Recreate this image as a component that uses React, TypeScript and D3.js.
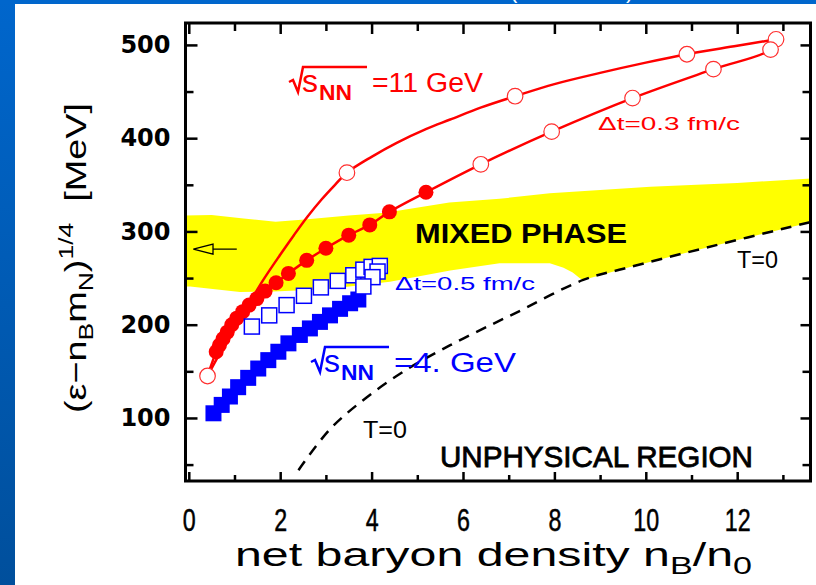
import React, { useEffect, useRef } from 'react';
import * as d3 from 'd3';

// axis ticks
const xTicksMajor = [0, 2, 4, 6, 8, 10, 12];
const xTicksMinor = [1, 3, 5, 7, 9, 11, 13];
const yTicksMajor = [100, 200, 300, 400, 500];
const yTicksMinor = [50, 150, 250, 350, 450];

// sqrt(s_NN)=11 GeV, compression branch (line)
const redUpX = [0.41, 0.8, 1.2, 1.63, 2.0, 2.3, 2.6, 2.9, 3.2, 3.46, 4.0, 4.55, 5.2, 5.72, 6.4, 7.14, 8.0, 9.0, 10.0, 10.9, 12.0, 12.85];
const redUpY = [145, 180, 213, 248, 275, 296, 316, 334, 350, 363, 380, 395, 410, 420, 433, 445, 458, 470, 481, 490, 499, 506];
// expansion branch (line)
const redDownX = [12.85, 12.73, 11.48, 9.71, 7.94, 6.39, 5.19, 4.39, 3.96, 3.5, 3.0, 2.58, 2.18, 1.91, 1.67, 1.49, 1.32, 1.18, 1.05, 0.94, 0.84, 0.75, 0.67, 0.6, 0.41];
const redDownY = [506, 495, 474, 443, 407, 372, 342, 321, 307, 296, 282, 269, 255, 245, 236, 228, 221, 214, 207, 200, 192, 185, 178, 171, 145];
// markers
const redOpenX = [0.41, 3.46, 7.14, 10.9, 12.85, 12.73, 11.48, 9.71, 7.94, 6.39];
const redOpenY = [145, 363, 445, 490, 506, 495, 474, 443, 407, 372];
const redFullX = [0.6, 0.67, 0.75, 0.84, 0.94, 1.05, 1.18, 1.32, 1.49, 1.67, 1.91, 2.18, 2.58, 3.0, 3.5, 3.96, 4.39, 5.19];
const redFullY = [171, 178, 185, 192, 200, 207, 214, 221, 228, 236, 245, 255, 269, 282, 296, 307, 321, 342];

// sqrt(s_NN)=4 GeV
const blueOpenX = [1.38, 1.76, 2.14, 2.52, 2.89, 3.26, 3.6, 3.82, 4.0, 4.18, 4.13, 4.02, 3.82];
const blueOpenY = [198, 210, 221, 231, 240, 247, 253, 259, 262, 263, 257, 251, 241];
const blueFullX = [0.54, 0.72, 0.9, 1.08, 1.3, 1.52, 1.74, 1.96, 2.18, 2.43, 2.65, 2.87, 3.09, 3.31, 3.53, 3.71];
const blueFullY = [105, 114, 123, 133, 143, 153, 162, 171, 180, 189, 196, 203, 210, 217, 223, 227];

// T=0 line
const t0X = [2.4, 3.09, 3.89, 4.77, 5.72, 6.66, 7.17, 8.63, 9.51, 11.19, 13.6];
const t0Y = [44, 88, 122, 152, 178, 201, 213, 248, 260, 281, 310];

// mixed phase band
const bandTopX = [-0.1, 0.5, 1.2, 1.9, 2.6, 3.5, 4.3, 5.7, 6.8, 7.9, 10.1, 12.0, 13.7];
const bandTopY = [317, 317.5, 314, 310.5, 313, 317, 320, 331, 335, 341, 348, 352, 357];
const bandBotX = [13.7, 11.19, 9.51, 8.63, 8.55, 8.4, 8.2, 7.9, 6.8, 5.72, 4.4, 3.0, 1.85, 1.12, 0.03, -0.1];
const bandBotY = [311, 281, 260, 248, 250, 256, 261, 266, 266, 258, 246, 238, 235.5, 235, 241, 241];

const zip = (xs: number[], ys: number[]) => xs.map((v, i) => [v, ys[i]] as [number, number]);

const App = () => {
    const ref = useRef<SVGSVGElement>(null);

    useEffect(() => {
        const svg = d3.select(ref.current);
        svg.selectAll('*').remove();

        const x = d3.scaleLinear().domain([-0.072, 13.604]).range([185.5, 810.5]);
        const y = d3.scaleLinear().domain([32.4, 523.5]).range([481, 23]);
        const [x0, x1] = x.range();
        const [y0, y1] = y.range();

        // slide background
        const defs = svg.append('defs');
        const grad = defs.append('linearGradient').attr('id', 'side').attr('x1', 0).attr('y1', 0).attr('x2', 0).attr('y2', 1);
        grad.append('stop').attr('offset', '0%').attr('stop-color', '#0066cc');
        grad.append('stop').attr('offset', '100%').attr('stop-color', '#004f9c');
        defs.append('clipPath').attr('id', 'plot')
            .append('rect').attr('x', x0).attr('y', y1).attr('width', x1 - x0).attr('height', y0 - y1);

        svg.append('rect').attr('width', 816).attr('height', 585).attr('fill', '#fff');
        svg.append('rect').attr('width', 15).attr('height', 585).attr('fill', 'url(#side)');
        svg.append('rect').attr('width', 816).attr('height', 4).attr('fill', '#0066cc');
        svg.append('text').attr('x', 510).attr('y', -2).attr('fill', '#fff')
            .style('font', '22px "Liberation Sans"').text('(');
        svg.append('text').attr('x', 626).attr('y', -2).attr('fill', '#fff')
            .style('font', '22px "Liberation Sans"').text(')');

        const plot = svg.append('g').attr('clip-path', 'url(#plot)');

        // mixed phase band
        plot.append('path')
            .datum([...zip(bandTopX, bandTopY), ...zip(bandBotX, bandBotY)])
            .attr('d', d3.line().x(d => x(d[0])).y(d => y(d[1])).curve(d3.curveLinearClosed))
            .attr('fill', '#ffff00');

        // T=0 dashed
        plot.append('path')
            .datum(zip(t0X, t0Y))
            .attr('d', d3.line().x(d => x(d[0])).y(d => y(d[1])).curve(d3.curveCatmullRom))
            .attr('fill', 'none').attr('stroke', '#000').attr('stroke-width', 2.5)
            .attr('stroke-dasharray', '11,8');

        // arrow
        const ay = y(281);
        plot.append('line').attr('x1', x(1.05)).attr('x2', x(0.53)).attr('y1', ay).attr('y2', ay)
            .attr('stroke', '#000').attr('stroke-width', 1.3);
        plot.append('path')
            .attr('d', `M${x(0.1)},${ay}L${x(0.53)},${ay - 5}L${x(0.53)},${ay + 5}Z`)
            .attr('fill', 'none').attr('stroke', '#000').attr('stroke-width', 1.3);

        // red trajectory
        const redLine = d3.line<[number, number]>().x(d => x(d[0])).y(d => y(d[1])).curve(d3.curveCatmullRom);
        plot.append('path').datum(zip(redUpX, redUpY)).attr('d', redLine)
            .attr('fill', 'none').attr('stroke', '#ff0000').attr('stroke-width', 2.5);
        plot.append('path').datum(zip(redDownX, redDownY)).attr('d', redLine)
            .attr('fill', 'none').attr('stroke', '#ff0000').attr('stroke-width', 2.5);
        plot.selectAll('.rfull').data(zip(redFullX, redFullY)).enter().append('circle')
            .attr('cx', d => x(d[0])).attr('cy', d => y(d[1])).attr('r', 7.5).attr('fill', '#ff0000');
        plot.selectAll('.ropen').data(zip(redOpenX, redOpenY)).enter().append('circle')
            .attr('cx', d => x(d[0])).attr('cy', d => y(d[1])).attr('r', 7.8)
            .attr('fill', '#fff').attr('stroke', '#ff3030').attr('stroke-width', 1.2);

        // blue trajectory
        const s1 = 16, s2 = 15;
        plot.selectAll('.bfull').data(zip(blueFullX, blueFullY)).enter().append('rect')
            .attr('x', d => x(d[0]) - s1 / 2).attr('y', d => y(d[1]) - s1 / 2)
            .attr('width', s1).attr('height', s1).attr('fill', '#0000ff');
        plot.selectAll('.bopen').data(zip(blueOpenX, blueOpenY)).enter().append('rect')
            .attr('x', d => x(d[0]) - s2 / 2).attr('y', d => y(d[1]) - s2 / 2)
            .attr('width', s2).attr('height', s2)
            .attr('fill', '#fff').attr('stroke', '#0000ff').attr('stroke-width', 1.5);

        // annotations
        const ann = svg.append('g').style('font-family', '"Liberation Sans", Arial, sans-serif');
        const label = (tx: number, ty: number, txt: string, size: number, len: number, color: string, weight = 'normal') =>
            ann.append('text').attr('x', tx).attr('y', ty).attr('fill', color)
                .attr('font-size', size).attr('font-weight', weight)
                .attr('textLength', len).attr('lengthAdjust', 'spacingAndGlyphs').text(txt);

        const sqrtLabel = (lx: number, base: number, rest: string, restLen: number, color: string) => {
            ann.append('path')
                .attr('d', `M${lx},${base - 10}L${lx + 4},${base - 12}L${lx + 9},${base}L${lx + 14},${base - 25}L${lx + 78},${base - 25}`)
                .attr('fill', 'none').attr('stroke', color).attr('stroke-width', 2.5).attr('stroke-linejoin', 'miter');
            ann.append('text').attr('x', lx + 13).attr('y', base).attr('fill', color)
                .attr('font-size', 32).text('s');
            ann.append('text').attr('x', lx + 30).attr('y', base + 8).attr('fill', color)
                .attr('font-size', 22).attr('font-weight', 'bold')
                .attr('textLength', 33).attr('lengthAdjust', 'spacingAndGlyphs').text('NN');
            label(lx + 83, base, rest, 27, restLen, color);
        };

        sqrtLabel(289, 92, '=11 GeV', 111, '#ff0000');
        sqrtLabel(311, 372, '=4. GeV', 122, '#0000ff');
        label(598, 130, 'Δt=0.3 fm/c', 19, 142, '#ff0000');
        label(395, 290, 'Δt=0.5 fm/c', 19, 140, '#0000ff');
        label(415, 243, 'MIXED PHASE', 28, 212, '#000', 'bold');
        label(737, 268, 'T=0', 24, 41, '#000');
        label(363, 438, 'T=0', 24, 44, '#000');
        label(440, 467, 'UNPHYSICAL REGION', 29, 313, '#000')
            .attr('stroke', '#000').attr('stroke-width', 0.8);

        // frame and ticks
        const styleTicks = (g: any, w: number) => {
            g.select('.domain').remove();
            g.selectAll('line').attr('stroke', '#000').attr('stroke-width', w);
        };
        const noLabel = () => '';

        const left = svg.append('g').attr('transform', `translate(${x0},0)`)
            .call(d3.axisLeft(y).tickValues(yTicksMajor).tickSize(-12).tickPadding(15).tickFormat(d3.format('d')));
        styleTicks(left, 2.5);
        left.selectAll('text').attr('fill', '#000')
            .style('font-family', '"DejaVu Sans", sans-serif').style('font-size', '24px').style('font-weight', 'bold');
        styleTicks(svg.append('g').attr('transform', `translate(${x0},0)`)
            .call(d3.axisLeft(y).tickValues(yTicksMinor).tickSize(-8).tickFormat(noLabel)), 2.5);
        styleTicks(svg.append('g').attr('transform', `translate(${x1},0)`)
            .call(d3.axisRight(y).tickValues(yTicksMajor).tickSize(-10).tickFormat(noLabel)), 2.5);
        styleTicks(svg.append('g').attr('transform', `translate(${x1},0)`)
            .call(d3.axisRight(y).tickValues(yTicksMinor).tickSize(-8).tickFormat(noLabel)), 2.5);

        const bottom = svg.append('g').attr('transform', `translate(0,${y0})`)
            .call(d3.axisBottom(x).tickValues(xTicksMajor).tickSize(-9).tickPadding(28).tickFormat(d3.format('d')));
        styleTicks(bottom, 2.5);
        bottom.selectAll('text').attr('fill', '#000').attr('transform', 'scale(0.75,1)')
            .attr('stroke', '#000').attr('stroke-width', 0.5)
            .style('font-family', '"Liberation Sans", sans-serif').style('font-size', '31px');
        styleTicks(svg.append('g').attr('transform', `translate(0,${y0})`)
            .call(d3.axisBottom(x).tickValues(xTicksMinor).tickSize(-6).tickFormat(noLabel)), 2.5);
        styleTicks(svg.append('g').attr('transform', `translate(0,${y1})`)
            .call(d3.axisTop(x).tickValues(xTicksMajor).tickSize(-11).tickFormat(noLabel)), 2.5);
        styleTicks(svg.append('g').attr('transform', `translate(0,${y1})`)
            .call(d3.axisTop(x).tickValues(xTicksMinor).tickSize(-8).tickFormat(noLabel)), 2.5);

        svg.append('rect').attr('x', x0).attr('y', y1).attr('width', x1 - x0).attr('height', y0 - y1)
            .attr('fill', 'none').attr('stroke', '#000').attr('stroke-width', 3);

        // axis titles
        const xt = svg.append('text').attr('x', 235).attr('y', 566).attr('fill', '#000')
            .style('font-family', '"Liberation Sans", sans-serif').attr('font-size', 34)
            .attr('textLength', 517).attr('lengthAdjust', 'spacingAndGlyphs');
        xt.append('tspan').text('net baryon density n');
        xt.append('tspan').attr('dy', 8).attr('font-size', 24).text('B');
        xt.append('tspan').attr('dy', -8).text('/n');
        xt.append('tspan').attr('dy', 8).attr('font-size', 24).text('0');

        const yt = svg.append('text').attr('transform', 'translate(86,413) rotate(-90)').attr('fill', '#000')
            .style('font-family', '"Liberation Sans", sans-serif').attr('font-size', 30)
            .attr('textLength', 310).attr('lengthAdjust', 'spacingAndGlyphs');
        yt.append('tspan').text('(ε−n');
        yt.append('tspan').attr('dy', 7).attr('font-size', 21).text('B');
        yt.append('tspan').attr('dy', -7).text('m');
        yt.append('tspan').attr('dy', 7).attr('font-size', 21).text('N');
        yt.append('tspan').attr('dy', -7).text(')');
        yt.append('tspan').attr('dy', -13).attr('font-size', 21).text('1/4');
        yt.append('tspan').attr('dy', 13).text('\u00a0\u00a0[MeV]');
    }, []);

    return (
        <svg ref={ref} width={816} height={585} style={{ position: 'absolute', left: 0, top: 0 }}></svg>
    );
};

export default App;
